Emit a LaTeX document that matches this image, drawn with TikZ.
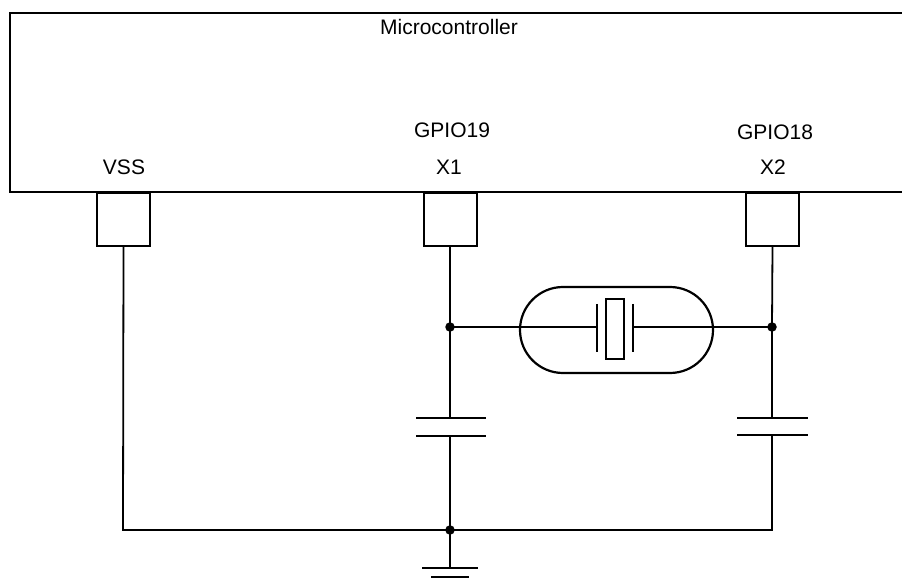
\documentclass[tikz,border=0pt]{standalone}
\usepackage{fontspec}
\setmainfont{Liberation Sans}
\usetikzlibrary{shapes.misc}
\begin{document}
\begin{tikzpicture}[x=1pt,y=-1pt,
  wire/.style={line width=1.8pt},
  outline/.style={line width=2.2pt},
  pinbox/.style={draw,line width=2pt,minimum width=53pt,minimum height=53pt,inner sep=0pt},
  lbl/.style={font=\fontsize{21}{25}\selectfont,inner sep=0pt},
  plate/.style={line width=2pt},
  dot/.style={circle,fill=black,inner sep=0pt,minimum size=9.5pt}]
\useasboundingbox (0,0) rectangle (902,585);
% microcontroller box (right side beyond the picture)
\draw[outline] (915,13) -- (10,13) -- (10,192) -- (915,192);
\node[lbl] (mc) at (449,27) {Microcontroller};
\node[lbl] (gp19) at (452,130) {GPIO19};
\node[lbl] (gp18) at (775,132) {GPIO18};
\node[lbl] (vss) at (124,167) {VSS};
\node[lbl] (x1) at (449,167) {X1};
\node[lbl] (x2) at (773,167) {X2};
% pins
\node[pinbox] (p0) at (123.5,219.5) {};
\node[pinbox] (p1) at (450,219.5) {};
\node[pinbox] (p2) at (772.5,219.5) {};
% coordinates
\coordinate (j1) at (450,327);
\coordinate (j2) at (772,327);
\coordinate (c1t) at (450,418);
\coordinate (c1b) at (450,435);
\coordinate (c2t) at (772,418);
\coordinate (c2b) at (772,435);
\coordinate (g) at (450,530);
\coordinate (vb) at (123,530);
\coordinate (x2b) at (772,530);
\coordinate (gt) at (450,568);
\coordinate (xl) at (597,327);
\coordinate (xr) at (633,327);
% crystal
\node[draw,outline,rounded rectangle,minimum width=193pt,minimum height=86pt,inner sep=0pt] (xt) at (616.5,330) {};
\node[draw,line width=1.8pt,minimum width=18pt,minimum height=60pt,inner sep=0pt] (xq) at (615,329) {};
\draw[plate] (597,304) -- (597,352);
\draw[plate] (633,304) -- (633,352);
% wires
\draw[wire] (p0.south) -- (vb) -- (g) -- (x2b) -- (c2b);
\draw[wire] (p1.south) -- (j1) -- (c1t);
\draw[wire] (p2.south) -- (j2) -- (c2t);
\draw[wire] (j1) -- (xl);
\draw[wire] (xr) -- (j2);
\draw[wire] (c1b) -- (g) -- (gt);
% capacitor plates
\draw[plate] (416,418) -- (486,418);
\draw[plate] (416,436) -- (486,436);
\draw[plate] (737,418) -- (808,418);
\draw[plate] (737,435) -- (808,435);
% ground
\draw[plate] (422,568) -- (478,568);
\draw[plate] (431,577) -- (469,577);
% junction dots
\node[dot] (d1) at (j1) {};
\node[dot] (d2) at (j2) {};
\node[dot] (d3) at (g) {};
\end{tikzpicture}
\end{document}
